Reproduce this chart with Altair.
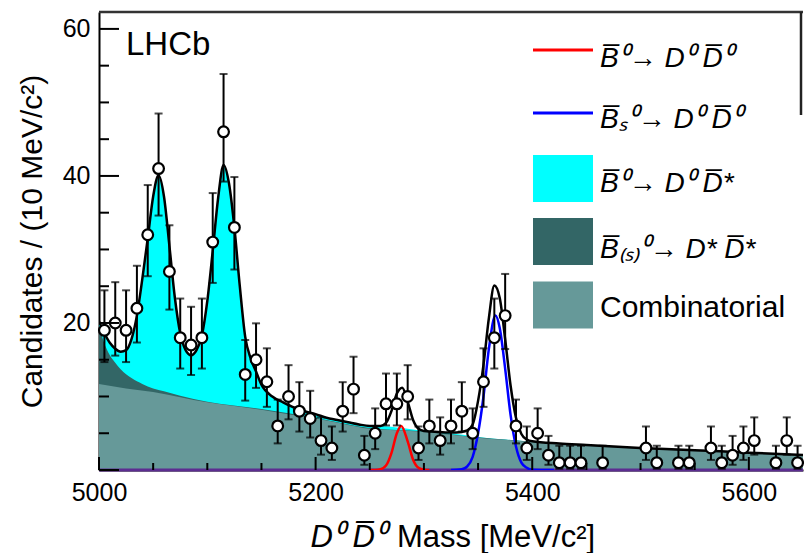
import altair as alt
import pandas as pd

# ---------------- data ----------------
bin_center = [5005, 5015, 5025, 5035, 5045, 5055, 5065, 5075, 5085, 5095,
              5105, 5115, 5125, 5135, 5145, 5155, 5165, 5175, 5185, 5195,
              5205, 5215, 5225, 5235, 5245, 5255, 5265, 5275, 5285, 5295,
              5305, 5315, 5325, 5335, 5345, 5355, 5365, 5375, 5385, 5395,
              5405, 5415, 5425, 5435, 5445, 5465, 5505, 5515, 5535, 5545,
              5565, 5575, 5585, 5595, 5605, 5625, 5635, 5645]
counts = [19, 20, 19, 22, 32, 41, 27, 18, 17, 18,
          31, 46, 33, 13, 15, 12, 6, 10, 8, 7,
          4, 3, 8, 11, 2, 5, 9, 9, 10, 3,
          6, 4, 6, 8, 5, 12, 18, 21, 6, 3,
          5, 2, 1, 1, 1, 1, 3, 1, 1, 1,
          3, 1, 2, 3, 4, 1, 4, 1]

# Poisson 68% interval half-widths per count (as drawn)
poisson_n = [1, 2, 3, 4, 5, 6, 7, 8, 9, 10, 11, 12, 13, 15, 17, 18, 19, 20, 21, 22, 27, 31, 32, 33, 41, 46]
poisson_dn = [0.83, 1.29, 1.63, 1.91, 2.16, 2.38, 2.58, 2.77, 2.94, 3.11, 3.27, 3.41, 3.56, 3.83, 4.08,
              4.20, 4.32, 4.44, 4.55, 4.66, 5.18, 5.55, 5.64, 5.73, 6.39, 6.77]
poisson_up = [2.30, 2.64, 2.92, 3.16, 3.38, 3.58, 3.77, 3.95, 4.12, 4.26, 4.41, 4.55, 4.68, 4.95, 5.20,
              5.32, 5.44, 5.55, 5.67, 5.78, 6.29, 6.67, 6.76, 6.85, 7.49, 7.87]

# total fit
total_x = [5000, 5005, 5010, 5015, 5020, 5025, 5030, 5035, 5040, 5045,
           5050, 5055, 5060, 5065, 5070, 5075, 5080, 5085, 5090, 5095,
           5100, 5105, 5110, 5115, 5120, 5125, 5130, 5135, 5140, 5145,
           5150, 5160, 5170, 5180, 5190, 5200, 5210, 5220, 5230, 5240,
           5250, 5260, 5265, 5270, 5275, 5280, 5285, 5290, 5295, 5300,
           5310, 5320, 5330, 5340, 5345, 5350, 5355, 5360, 5365, 5370,
           5375, 5380, 5385, 5390, 5395, 5400, 5425, 5450, 5500, 5550,
           5600, 5650]
total_y = [20.2, 18.6, 17.3, 16.5, 16.1, 16.3, 17.8, 21.0, 26.0, 31.5,
           37.2, 40.1, 37.2, 30.5, 23.5, 18.6, 16.3, 15.6, 16.3, 18.3,
           23.0, 29.8, 37.0, 41.5, 39.0, 33.0, 25.0, 18.1, 15.2, 13.4,
           11.6, 10.0, 9.2, 8.5, 8.0, 7.6, 7.1, 6.8, 6.5, 6.2,
           6.0, 6.0, 6.4, 8.0, 10.4, 11.2, 9.3, 6.8, 5.6, 5.3,
           5.2, 5.1, 5.1, 5.4, 6.2, 9.4, 14.3, 20.7, 25.1, 23.4,
           17.8, 11.5, 7.1, 4.9, 4.15, 3.9, 3.6, 3.4, 3.0, 2.7,
           2.35, 2.05]

# B0 -> D0 D*bar component (cyan), tail beyond the peaks region
cyan_tail_x = [5280, 5300, 5325, 5350, 5375, 5400]
cyan_tail_y = [5.7, 5.3, 5.0, 4.5, 4.15, 3.85]

# B(s) -> D* D*bar (stacked top, dark teal)
dstar_x = [5000, 5005, 5010, 5015, 5020, 5030, 5040, 5050, 5060, 5075,
           5100, 5150, 5200, 5250, 5300, 5350, 5400, 5500, 5650]
dstar_y = [19.6, 17.2, 15.6, 14.6, 13.7, 12.5, 11.7, 11.1, 10.7, 10.1,
           9.3, 8.3, 7.1, 5.7, 5.25, 4.45, 3.85, 2.95, 2.0]

# combinatorial background
comb_x = [5000, 5025, 5050, 5075, 5100, 5125, 5150, 5175, 5200, 5225,
          5250, 5275, 5300, 5325, 5350, 5375, 5400, 5450, 5500, 5550,
          5600, 5650]
comb_y = [11.7, 11.1, 10.6, 9.9, 9.2, 8.7, 8.2, 7.6, 7.0, 6.3,
          5.6, 5.4, 5.2, 4.8, 4.4, 4.1, 3.8, 3.3, 2.9, 2.6,
          2.3, 2.0]

# B0 -> D0 D0bar (red) and Bs0 -> D0 D0bar (blue)
red_x = [5250, 5255, 5260, 5265, 5270, 5275, 5279, 5285, 5290, 5295, 5300, 5305]
red_y = [0, 0, 0.1, 0.6, 2.3, 5.0, 6.0, 3.9, 1.4, 0.3, 0.05, 0]
blue_x = [5325, 5330, 5335, 5340, 5345, 5350, 5355, 5360, 5366, 5370,
          5375, 5380, 5385, 5390, 5395, 5400, 5420]
blue_y = [0, 0.02, 0.1, 0.5, 1.8, 5.0, 10.0, 16.5, 21.0, 19.3,
          13.8, 7.5, 3.2, 1.0, 0.3, 0.05, 0]

y_major = [0, 20, 40, 60]
y_minor = [5, 10, 15, 25, 30, 35, 45, 50, 55]
x_major = [5000, 5200, 5400, 5600]
x_minor = [5050, 5100, 5150, 5250, 5300, 5350, 5450, 5500, 5550]
y_labels = [20, 40, 60]

leg_labels = ["B\u0305\u2070\u2192 D\u2070 D\u0305\u2070",
              "B\u0305\u209b\u2070\u2192 D\u2070 D\u0305\u2070",
              "B\u0305\u2070\u2192 D\u2070 D\u0305*",
              "B\u0305\u208d\u209b\u208e\u2070\u2192 D* D\u0305*",
              "Combinatorial"]
x_title_math = "D\u2070  D\u0305\u2070"
x_title_text = "Mass [MeV/c\u00b2]"
y_title = "Candidates / (10 MeV/c\u00b2)"

C_CYAN = "#00ffff"
C_DARK = "#336666"
C_COMB = "#669999"

# ---------------- tables ----------------
W, H = 704, 458
xs = alt.Scale(domain=[5000, 5650], nice=False)
ys = alt.Scale(domain=[0, 62.3], nice=False)

pidx = {n: i for i, n in enumerate(poisson_n)}
pts = pd.DataFrame({
    "m": bin_center,
    "n": counts,
    "lo": [c - poisson_dn[pidx[c]] for c in counts],
    "hi": [c + poisson_up[pidx[c]] for c in counts],
})

df_total = pd.DataFrame({"m": total_x, "v": total_y})
cx = [x for x in total_x if x <= 5260] + cyan_tail_x
cy = [y for x, y in zip(total_x, total_y) if x <= 5260] + cyan_tail_y
df_cyan = pd.DataFrame({"m": cx, "v": cy})
df_dark = pd.DataFrame({"m": dstar_x, "v": dstar_y})
df_comb = pd.DataFrame({"m": comb_x, "v": comb_y})
df_red = pd.DataFrame({"m": red_x, "v": red_y})
df_blue = pd.DataFrame({"m": blue_x, "v": blue_y})

FONT = "Liberation Sans"

x_axis = alt.Axis(values=x_major, format="d", tickSize=0, grid=False,
                  labelFont=FONT, labelFontSize=25, labelColor="black",
                  labelPadding=10, labelFlush=False, labelOverlap=False,
                  domainColor="black", domainWidth=2, title="")
y_axis = alt.Axis(values=y_labels, format="d", tickSize=0, grid=False,
                  labelFont=FONT, labelFontSize=25, labelColor="black",
                  labelPadding=9, labelFlush=False, labelOverlap=False,
                  domainColor="black", domainWidth=2,
                  title=y_title,
                  titleFont=FONT, titleFontSize=30, titleFontWeight="normal",
                  titleColor="black", titleBaseline="alphabetic",
                  titleX=-58, titleY=229)


def X(f):
    return alt.X(f, scale=xs, axis=x_axis)


def Y(f):
    return alt.Y(f, scale=ys, axis=y_axis)


cyan_area = alt.Chart(df_cyan).mark_area(color=C_CYAN, interpolate="monotone", clip=True).encode(
    x=X("m:Q"), y=Y("v:Q"))
dark_area = alt.Chart(df_dark).mark_area(color=C_DARK, interpolate="monotone", clip=True).encode(
    x=X("m:Q"), y=Y("v:Q"))
comb_area = alt.Chart(df_comb).mark_area(color=C_COMB, interpolate="monotone", clip=True).encode(
    x=X("m:Q"), y=Y("v:Q"))

baseline = alt.Chart(pd.DataFrame({"m": [5000], "m2": [5650], "v": [0]})).mark_rule(
    color="#5c2d91", strokeWidth=3).encode(x=X("m:Q"), x2="m2:Q", y=Y("v:Q"))

red_line = alt.Chart(df_red).mark_line(color="#ff0000", strokeWidth=2.5, interpolate="monotone", clip=True).encode(
    x=X("m:Q"), y=Y("v:Q"))
blue_line = alt.Chart(df_blue).mark_line(color="#0000ff", strokeWidth=2.5, interpolate="monotone", clip=True).encode(
    x=X("m:Q"), y=Y("v:Q"))
total_line = alt.Chart(df_total).mark_line(color="black", strokeWidth=2.5, interpolate="monotone", clip=True).encode(
    x=X("m:Q"), y=Y("v:Q"))

err = alt.Chart(pts).mark_rule(color="black", strokeWidth=2).encode(
    x=X("m:Q"), y=Y("lo:Q"), y2="hi:Q")
cap_hi = alt.Chart(pts).mark_tick(color="black", orient="horizontal", size=8, thickness=2).encode(
    x=X("m:Q"), y=Y("hi:Q"))
cap_lo = alt.Chart(pts).mark_tick(color="black", orient="horizontal", size=8, thickness=2).encode(
    x=X("m:Q"), y=Y("lo:Q"))
points = alt.Chart(pts).mark_point(shape="circle", filled=True, fill="white", stroke="black",
                                   strokeWidth=2.2, size=115, opacity=1).encode(
    x=X("m:Q"), y=Y("n:Q"))


# inward axis ticks
def yticks(vals, length):
    return alt.Chart(pd.DataFrame({"v": vals})).mark_rule(color="black", strokeWidth=2).encode(
        y=Y("v:Q"), x=alt.value(0), x2=alt.value(length))


def xticks(vals, length):
    return alt.Chart(pd.DataFrame({"m": vals})).mark_rule(color="black", strokeWidth=2).encode(
        x=X("m:Q"), y=alt.value(H), y2=alt.value(H - length))


frame_top = alt.Chart(pd.DataFrame({"a": [0]})).mark_rule(color="#333333", strokeWidth=2.5).encode(
    x=alt.value(0), x2=alt.value(W), y=alt.value(0))
frame_right = alt.Chart(pd.DataFrame({"a": [0]})).mark_rule(color="#222222", strokeWidth=2.5).encode(
    x=alt.value(W - 2), y=alt.value(0), y2=alt.value(103))

lhcb = alt.Chart(pd.DataFrame({"t": ["LHCb"]})).mark_text(
    font=FONT, fontSize=33, align="left", baseline="alphabetic", color="black").encode(
    text="t:N", x=alt.value(27), y=alt.value(43))

# x-axis title in two styles (italic symbols + upright text)
xt_math = alt.Chart(pd.DataFrame({"t": [x_title_math]})).mark_text(
    font=FONT, fontSize=31, fontStyle="italic", align="right", baseline="alphabetic", color="black").encode(
    text="t:N", x=alt.value(287), y=alt.value(535))
xt_text = alt.Chart(pd.DataFrame({"t": [x_title_text]})).mark_text(
    font=FONT, fontSize=31, align="left", baseline="alphabetic", color="black").encode(
    text="t:N", x=alt.value(298), y=alt.value(535))

# legend
leg = pd.DataFrame({
    "label": leg_labels,
    "color": ["#ff0000", "#0000ff", C_CYAN, C_DARK, C_COMB],
    "sym_y": [38, 101, 166.5, 229.5, 293],
    "txt_y": [55, 116, 180, 245.5, 305],
    "kind": ["line", "line", "box", "box", "box"],
    "fstyle": ["italic", "italic", "italic", "italic", "normal"],
    "x0": [434] * 5, "x1": [494] * 5, "tx": [501] * 5,
})
leg["y0"] = leg["sym_y"] - 23.5
leg["y1"] = leg["sym_y"] + 23.5

leg_lines = alt.Chart(leg[leg["kind"] == "line"]).mark_rule(strokeWidth=3).encode(
    x=alt.X("x0:Q", scale=None, axis=None), x2="x1:Q",
    y=alt.Y("sym_y:Q", scale=None, axis=None),
    color=alt.Color("color:N", scale=None, legend=None))
leg_boxes = alt.Chart(leg[leg["kind"] == "box"]).mark_rect().encode(
    x=alt.X("x0:Q", scale=None, axis=None), x2="x1:Q",
    y=alt.Y("y0:Q", scale=None, axis=None), y2="y1:Q",
    color=alt.Color("color:N", scale=None, legend=None))
leg_math = alt.Chart(leg[leg["fstyle"] == "italic"]).mark_text(
    font=FONT, fontSize=28, fontStyle="italic", align="left", baseline="alphabetic", color="black").encode(
    x=alt.X("tx:Q", scale=None, axis=None), y=alt.Y("txt_y:Q", scale=None, axis=None), text="label:N")
leg_plain = alt.Chart(leg[leg["fstyle"] == "normal"]).mark_text(
    font=FONT, fontSize=30, align="left", baseline="alphabetic", color="black").encode(
    x=alt.X("tx:Q", scale=None, axis=None), y=alt.Y("txt_y:Q", scale=None, axis=None), text="label:N")

chart = alt.layer(
    cyan_area, dark_area, comb_area, baseline,
    red_line, blue_line, total_line,
    err, cap_hi, cap_lo, points,
    yticks(y_major, 20), yticks(y_minor, 10), xticks(x_major, 13), xticks(x_minor, 7),
    frame_top, frame_right, lhcb, xt_math, xt_text,
    leg_lines, leg_boxes, leg_math, leg_plain,
).properties(
    width=W, height=H,
    autosize=alt.AutoSizeParams(type="none"),
    padding={"left": 99, "top": 12, "right": 1, "bottom": 83},
    background="white",
).configure_view(strokeWidth=0)

chart.save("out.html", embed_options={"renderer": "svg", "actions": False})
